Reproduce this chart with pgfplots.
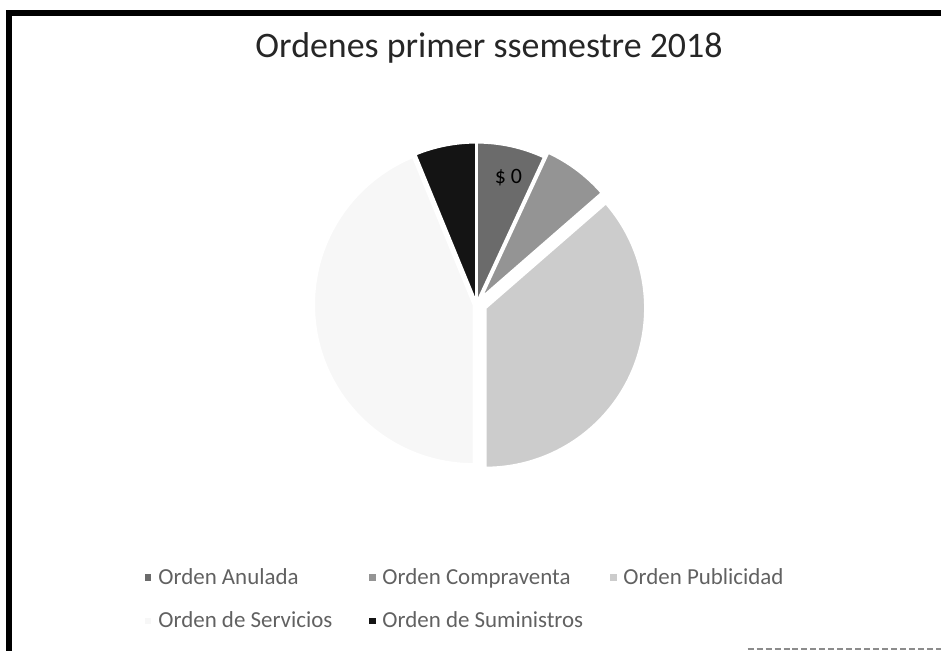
\documentclass[border=0pt]{standalone}
\usepackage{pgfplots}
\pgfplotsset{compat=1.18}
\usepackage{pgfplotstable}
\usepackage{fontspec}
\setmainfont{Carlito}

% share of each order type (percent), explode offset (px)
\pgfplotstableread{
idx value explode
0 6.9 2
1 6.7 8
2 36.4 10
3 43.8 3
4 6.2 2
}\piedata

\colorlet{pieC0}{black!58}
\colorlet{pieC1}{black!42}
\colorlet{pieC2}{black!20}
\colorlet{pieC3}{black!3}
\colorlet{pieC4}{black!92}

\def\cum{0}
\pgfplotstableforeachcolumnelement{value}\of\piedata\as\v{%
  \pgfmathsetmacro\st{\cum*3.6}%
  \pgfmathsetmacro\newcum{\cum+\v}%
  \pgfmathsetmacro\en{\newcum*3.6}%
  \expandafter\xdef\csname pieSt\pgfplotstablerow\endcsname{\st}%
  \expandafter\xdef\csname pieEn\pgfplotstablerow\endcsname{\en}%
  \xdef\cum{\newcum}%
}
\foreach \i in {0,...,4}{%
  \pgfplotstablegetelem{\i}{explode}\of\piedata
  \expandafter\xdef\csname pieEx\i\endcsname{\pgfplotsretval}%
}

\begin{document}
\begin{tikzpicture}
\begin{axis}[
  scale only axis, width=472bp, height=326.5bp,
  xmin=0, xmax=944, ymin=0, ymax=653,
  hide axis, clip=false,
  legend columns=3,
  legend cell align=left,
  legend image code/.code={\fill[#1] (0bp,-1.7bp) rectangle (3.4bp,1.7bp);},
  legend style={draw=none, fill=none, at={(0.147,0.140)}, anchor=north west,
    font=\fontsize{11.5bp}{13bp}\selectfont, text=black!62,
    column sep=0pt, row sep=8.3bp,
    /tikz/every odd column/.append style={column sep=1.5bp}},
]
\path (axis cs:0,0) rectangle (axis cs:944,653);

\pgfplotsinvokeforeach{0,...,4}{%
  \fill[pieC#1, draw=white, line width=1bp]
    ([shift={({90-(\csname pieSt#1\endcsname+\csname pieEn#1\endcsname)/2}:{0.5bp*\csname pieEx#1\endcsname})}]axis cs:478,348)
    -- ++({90-\csname pieSt#1\endcsname}:80bp)
    arc[start angle={90-\csname pieSt#1\endcsname}, end angle={90-\csname pieEn#1\endcsname}, radius=80bp]
    -- cycle;
}

\addlegendimage{fill=pieC0, draw=none}
\addlegendentry{\makebox[103.5bp][l]{Orden Anulada}}
\addlegendimage{fill=pieC1, draw=none}
\addlegendentry{\makebox[112bp][l]{Orden Compraventa}}
\addlegendimage{fill=pieC2, draw=none}
\addlegendentry{Orden Publicidad}
\addlegendimage{fill=pieC3, draw=none}
\addlegendentry{\makebox[103.5bp][l]{Orden de Servicios}}
\addlegendimage{fill=pieC4, draw=none}
\addlegendentry{\makebox[112bp][l]{Orden de Suministros}}

\node[font=\fontsize{11bp}{13bp}\selectfont, text=black] at (axis cs:510,475) {\$ 0};

\node[font=\fontsize{18bp}{21bp}\selectfont, text=black!85, anchor=base] at (axis cs:490.5,595) {Ordenes primer ssemestre 2018};

\draw[line width=3bp] (axis cs:9,0) -- (axis cs:9,641.5);
\draw[line width=3bp] (axis cs:6,640) -- (axis cs:944,640);
\draw[black!45, line width=0.8bp, dash pattern=on 3bp off 1.5bp] (axis cs:750,2) -- (axis cs:944,2);
\end{axis}
\end{tikzpicture}
\end{document}
